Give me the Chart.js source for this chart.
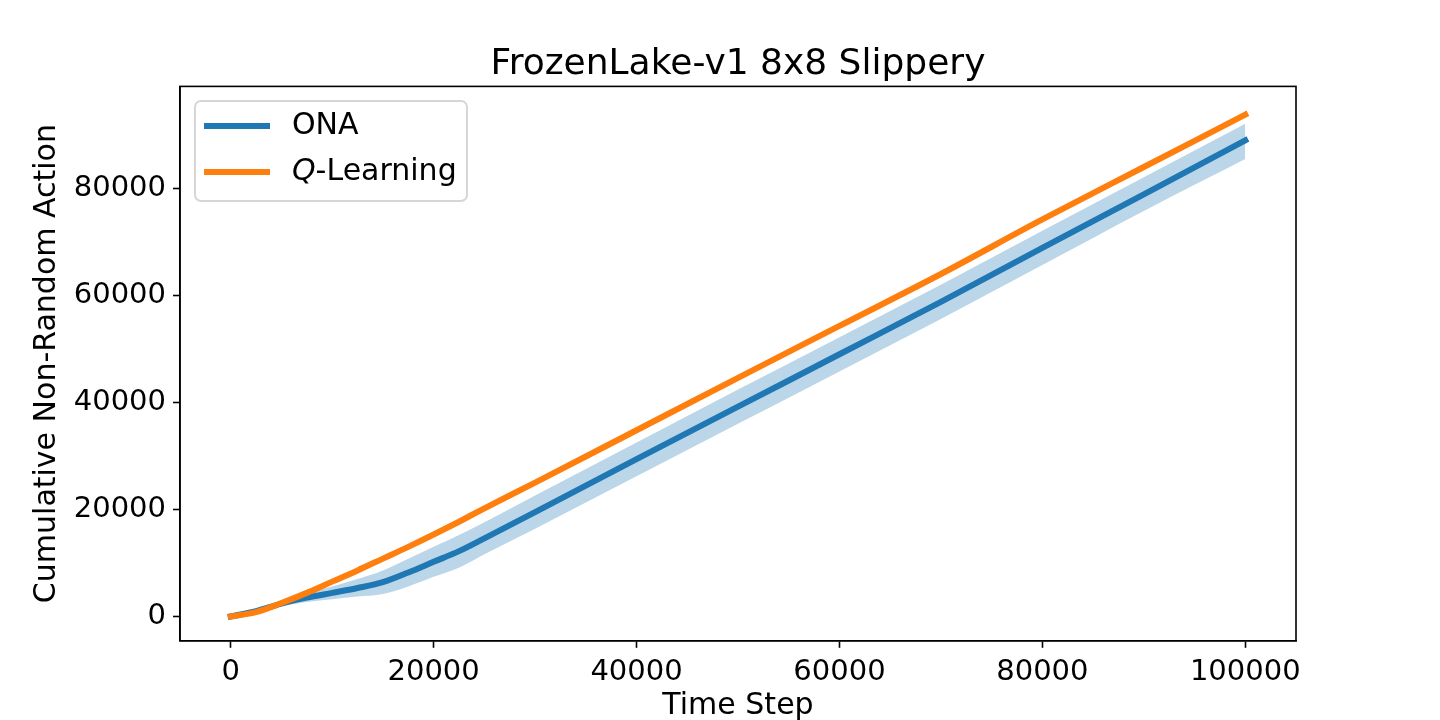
<!DOCTYPE html>
<html>
<head>
<meta charset="utf-8">
<script src="https://cdn.jsdelivr.net/npm/chart.js@4"></script>
<style>
  html, body { margin: 0; padding: 0; background: #fff; }
  #wrap { width: 1440px; height: 720px; }
</style>
</head>
<body>
<div id="wrap"><canvas id="chart" width="1440" height="720"></canvas></div>
<script>
// ── Dati ────────────────────────────────
const steps = [0, 2500, 5000, 7500, 10000, 12500, 15000, 17500, 20000, 22500, 25000, 30000, 40000, 50000, 60000, 70000, 80000, 90000, 100000];
const onaMean = [0, 1000, 2400, 3500, 4400, 5300, 6400, 8200, 10200, 12200, 14600, 19500, 29400, 39200, 49000, 58800, 68900, 78900, 89000];
const onaUpper = [0, 1200, 2900, 4300, 5600, 7000, 8600, 10800, 13000, 15200, 17600, 22600, 32500, 42400, 52200, 62000, 72100, 82100, 92100];
const onaLower = [0, 800, 1900, 2700, 3200, 3700, 4200, 5600, 7400, 9100, 11600, 16400, 26200, 36000, 45800, 55600, 65700, 75800, 85500];
const qMean = [0, 800, 2500, 4400, 6500, 8600, 10800, 13000, 15300, 17700, 20200, 25000, 34800, 44600, 54300, 64000, 74200, 84000, 93800];

const xTicks = [0, 20000, 40000, 60000, 80000, 100000];
const yTicks = [0, 20000, 40000, 60000, 80000];

const BLUE = '#1f77b4';
const ORANGE = '#ff7f0e';
const FONT = '"DejaVu Sans", sans-serif';

const pts = arr => arr.map((v, i) => ({ x: steps[i], y: v }));

// Testi extra (titolo, etichette assi, legenda) disegnati a mano
const decorPlugin = {
  id: 'decor',
  afterDraw(chart) {
    const { ctx, chartArea: a } = chart;
    ctx.save();
    // cornice completa (spines)
    ctx.strokeStyle = '#000';
    ctx.lineWidth = 1.6;
    ctx.strokeRect(a.left, a.top, a.right - a.left, a.bottom - a.top);

    ctx.fillStyle = '#000';
    ctx.textAlign = 'center';
    ctx.textBaseline = 'alphabetic';
    ctx.font = `36px ${FONT}`;
    ctx.fillText('FrozenLake-v1 8x8 Slippery', (a.left + a.right) / 2, 74);

    ctx.font = `30px ${FONT}`;
    ctx.fillText('Time Step', (a.left + a.right) / 2, 714);

    ctx.save();
    ctx.translate(55, (a.top + a.bottom) / 2);
    ctx.rotate(-Math.PI / 2);
    ctx.fillText('Cumulative Non-Random Action', 0, 0);
    ctx.restore();

    // legenda
    const lx = 195, ly = 101, lw = 272, lh = 100, r = 6;
    ctx.beginPath();
    ctx.roundRect(lx, ly, lw, lh, r);
    ctx.fillStyle = 'rgba(255,255,255,0.8)';
    ctx.fill();
    ctx.strokeStyle = 'rgba(204,204,204,0.8)';
    ctx.lineWidth = 2;
    ctx.stroke();

    const items = [
      { color: BLUE, y: 126, parts: [{ t: 'ONA', it: false }] },
      { color: ORANGE, y: 172, parts: [{ t: 'Q', it: true }, { t: '-Learning', it: false }] }
    ];
    items.forEach(item => {
      ctx.strokeStyle = item.color;
      ctx.lineWidth = 6;
      ctx.lineCap = 'butt';
      ctx.beginPath();
      ctx.moveTo(204, item.y);
      ctx.lineTo(270, item.y);
      ctx.stroke();
      let x = 292;
      ctx.fillStyle = '#000';
      ctx.textAlign = 'left';
      ctx.textBaseline = 'middle';
      item.parts.forEach(p => {
        ctx.font = `${p.it ? 'italic ' : ''}30px ${FONT}`;
        ctx.fillText(p.t, x, item.y);
        x += ctx.measureText(p.t).width;
      });
    });
    ctx.restore();
  }
};

const tickStyle = { color: '#000', font: { family: FONT, size: 29 }, padding: 7 };
const gridStyle = { display: true, drawOnChartArea: false, drawTicks: true, tickLength: 7, tickWidth: 1.6, tickColor: '#000' };
const borderStyle = { display: true, color: '#000', width: 1.6 };

new Chart(document.getElementById('chart').getContext('2d'), {
  type: 'line',
  data: {
    datasets: [
      {
        label: 'ONA upper',
        data: pts(onaUpper),
        borderWidth: 0,
        pointRadius: 0,
        backgroundColor: 'rgba(31,119,180,0.3)',
        fill: '+1',
        order: 3
      },
      {
        label: 'ONA lower',
        data: pts(onaLower),
        borderWidth: 0,
        pointRadius: 0,
        backgroundColor: 'rgba(31,119,180,0.3)',
        fill: false,
        order: 3
      },
      {
        label: 'ONA',
        data: pts(onaMean),
        borderColor: BLUE,
        borderWidth: 6,
        borderCapStyle: 'square',
        pointRadius: 0,
        fill: false,
        order: 2
      },
      {
        label: 'Q-Learning',
        data: pts(qMean),
        borderColor: ORANGE,
        borderWidth: 6,
        borderCapStyle: 'square',
        pointRadius: 0,
        fill: false,
        order: 1
      }
    ]
  },
  options: {
    responsive: false,
    devicePixelRatio: 1,
    animation: false,
    cubicInterpolationMode: 'monotone',
    layout: { padding: { top: 86.4, right: 144, bottom: 0, left: 0 } },
    plugins: { legend: { display: false }, title: { display: false }, tooltip: { enabled: false } },
    scales: {
      x: {
        type: 'linear',
        min: -5000,
        max: 105000,
        afterFit: s => { s.height = 79.2; },
        afterBuildTicks: s => { s.ticks = xTicks.map(v => ({ value: v })); },
        ticks: { ...tickStyle, maxRotation: 0, callback: v => String(v) },
        grid: gridStyle,
        border: borderStyle
      },
      y: {
        type: 'linear',
        min: -4560,
        max: 99070,
        afterFit: s => { s.width = 180; },
        afterBuildTicks: s => { s.ticks = yTicks.map(v => ({ value: v })); },
        ticks: { ...tickStyle, callback: v => String(v) },
        grid: gridStyle,
        border: borderStyle
      }
    }
  },
  plugins: [decorPlugin]
});
</script>
</body>
</html>
